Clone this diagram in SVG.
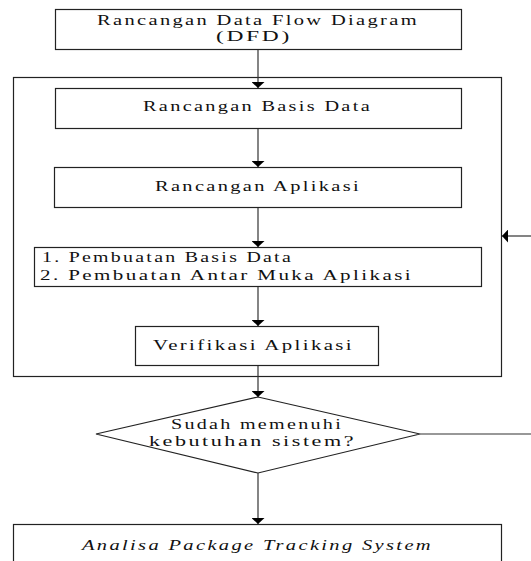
<svg xmlns="http://www.w3.org/2000/svg" width="531" height="561" viewBox="0 0 531 561">
<style>
.box{fill:#fff;stroke:#222;stroke-width:1.2}
.ln{fill:none;stroke:#333;stroke-width:1.2}
.t{font-family:"Liberation Serif","Times New Roman",serif;font-size:14px;letter-spacing:1.6px;fill:#111}
</style>
<defs>
<marker id="ah" markerWidth="6" markerHeight="13" refX="6" refY="6.5" orient="auto" markerUnits="userSpaceOnUse" viewBox="0 0 6 13">
<path d="M0,0 L6,6.5 L0,13 Z" fill="#000"/>
</marker>
</defs>
<rect width="531" height="561" fill="#fff"/>
<g id="outer"><rect class="box" x="13.5" y="77.5" width="488" height="299" fill="none"/></g>
<g id="n1"><rect class="box" x="55.5" y="9.5" width="406" height="40"/>
<text class="t" x="97" y="25" textLength="322" lengthAdjust="spacingAndGlyphs">Rancangan Data Flow Diagram</text>
<text class="t" x="216" y="41" textLength="76" lengthAdjust="spacingAndGlyphs">(DFD)</text></g>
<g id="n2"><rect class="box" x="55.5" y="88.5" width="406" height="40"/>
<text class="t" x="143" y="111" textLength="229" lengthAdjust="spacingAndGlyphs">Rancangan Basis Data</text></g>
<g id="n3"><rect class="box" x="54.5" y="167.5" width="407" height="40"/>
<text class="t" x="155" y="191" textLength="206" lengthAdjust="spacingAndGlyphs">Rancangan Aplikasi</text></g>
<g id="n4"><rect class="box" x="34.5" y="247.5" width="447" height="39"/>
<text class="t" x="42" y="262" textLength="251" lengthAdjust="spacingAndGlyphs">1. Pembuatan Basis Data</text>
<text class="t" x="40" y="280" textLength="373" lengthAdjust="spacingAndGlyphs">2. Pembuatan Antar Muka Aplikasi</text></g>
<g id="n5"><rect class="box" x="135.5" y="326.5" width="243" height="39"/>
<text class="t" x="153" y="350" textLength="201" lengthAdjust="spacingAndGlyphs">Verifikasi Aplikasi</text></g>
<g id="n6"><polygon class="box" points="258,397 420,434 258,473 96,434"/>
<text class="t" x="171" y="429" textLength="172" lengthAdjust="spacingAndGlyphs">Sudah memenuhi</text>
<text class="t" x="149" y="446" textLength="207" lengthAdjust="spacingAndGlyphs">kebutuhan sistem?</text></g>
<g id="n7"><rect class="box" x="13.5" y="524.5" width="488" height="60"/>
<text class="t" x="82" y="550" font-style="italic" textLength="351" lengthAdjust="spacingAndGlyphs">Analisa Package Tracking System</text></g>
<g id="connectors">
<line class="ln" x1="258" y1="50" x2="258" y2="88" marker-end="url(#ah)"/>
<line class="ln" x1="258" y1="129" x2="258" y2="167" marker-end="url(#ah)"/>
<line class="ln" x1="258" y1="208" x2="258" y2="247" marker-end="url(#ah)"/>
<line class="ln" x1="258" y1="287" x2="258" y2="326" marker-end="url(#ah)"/>
<line class="ln" x1="258" y1="366" x2="258" y2="397" marker-end="url(#ah)"/>
<line class="ln" x1="258" y1="473" x2="258" y2="524" marker-end="url(#ah)"/>
<line class="ln" x1="420" y1="434" x2="531" y2="434"/>
<line class="ln" x1="531" y1="236" x2="502" y2="236" marker-end="url(#ah)"/>
</g>
</svg>
